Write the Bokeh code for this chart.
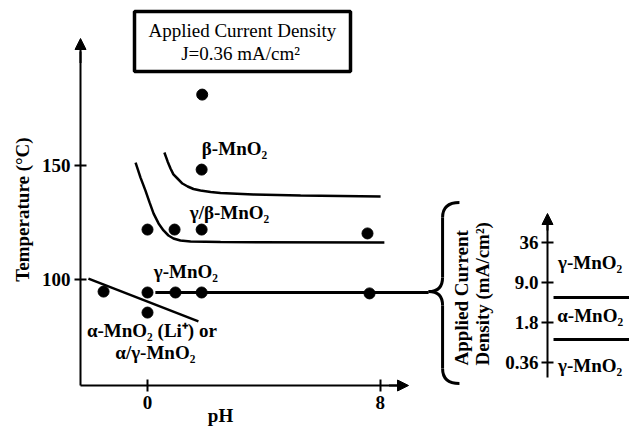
from bokeh.plotting import figure
from bokeh.layouts import row
from bokeh.models import Range1d, FixedTicker, Label, Arrow, NormalHead, BoxAnnotation
from bokeh.embed import file_html
from bokeh.resources import INLINE
import math

# ---------------- data ----------------
# experimental points: pH, temperature (C)
pts_ph = [-1.51, 0.0, 0.96, 1.86, 7.63, 0.0, 0.93, 1.86, 7.56, 0.0, 1.86, 1.88]
pts_temp = [94.7, 94.3, 94.3, 94.3, 93.9, 121.9, 121.9, 121.9, 120.2, 85.5, 148.2, 181.1]

# gamma / gamma-beta boundary curve
gb_ph = [-0.41, -0.24, -0.07, 0.07, 0.21, 0.38, 0.55, 0.72, 0.89, 1.13, 1.48, 2.51, 8.14]
gb_temp = [151.3, 144.7, 139.0, 133.8, 128.9, 124.6, 121.5, 119.3, 118.0, 117.1, 116.7, 116.4, 116.2]

# gamma-beta / beta boundary curve
b_ph = [0.58, 0.69, 0.79, 0.89, 1.03, 1.20, 1.38, 1.58, 1.82, 2.17, 2.51, 3.64, 5.26, 8.01]
b_temp = [155.7, 151.8, 148.7, 146.1, 144.3, 142.1, 140.8, 139.7, 139.0, 138.4, 137.9, 137.3, 136.8, 136.4]

# alpha boundary line
a_ph = [-2.03, 1.75]
a_temp = [100.4, 81.6]

# gamma line at constant temperature
g_ph = [0.27, 9.66]
g_temp = [94.3, 94.3]

x_ticks = [0, 8]
y_ticks = [100, 150]

# right panel: applied current density categories (mA/cm2)
j_labels = ["0.36", "1.8", "9.0", "36"]
j_index = [0, 1, 2, 3]
j_bounds = [0.575, 1.625]
j_phases = ["γ-MnO₂", "α-MnO₂", "γ-MnO₂"]
j_phase_pos = [2.5, 1.175, -0.075]

SERIF = "Liberation Serif"
FS = "19px"

# ---------------- main figure ----------------
X0, X1 = -5.052, 12.062
Y0, Y1 = 35.09, 222.37
AX_PH = -2.302     # where the temperature axis stands
AX_T = 53.51       # where the pH axis stands
p1 = figure(width=498, height=427, x_range=Range1d(X0, X1), y_range=Range1d(Y0, Y1),
            output_backend="svg", toolbar_location=None, min_border=0)
p1.xgrid.visible = False
p1.ygrid.visible = False
p1.outline_line_color = None
p1.background_fill_color = "white"
p1.border_fill_color = "white"

for ax in (p1.xaxis[0], p1.yaxis[0]):
    ax.axis_line_width = 2
    ax.axis_line_color = "black"
    ax.major_tick_line_width = 2
    ax.major_tick_in = 6
    ax.major_tick_out = 6
    ax.minor_tick_line_color = None
    ax.major_label_text_font = SERIF
    ax.major_label_text_font_style = "bold"
    ax.major_label_text_font_size = FS
    ax.major_label_text_color = "black"
    ax.major_label_standoff = 4

p1.xaxis.fixed_location = AX_T
p1.yaxis.fixed_location = AX_PH
p1.xaxis.ticker = FixedTicker(ticks=x_ticks)
p1.yaxis.ticker = FixedTicker(ticks=y_ticks)
p1.xaxis.bounds = (AX_PH, 8.6)
p1.yaxis.bounds = (AX_T, 200.0)

# axis arrows
p1.add_layout(Arrow(end=NormalHead(size=11, fill_color="black", line_color="black"),
                    x_start=AX_PH, y_start=195.0, x_end=AX_PH, y_end=205.7,
                    line_width=2, line_color="black"))
p1.add_layout(Arrow(end=NormalHead(size=11, fill_color="black", line_color="black"),
                    x_start=8.3, y_start=AX_T, x_end=8.97, y_end=AX_T,
                    line_width=2, line_color="black"))

# boundaries
p1.line(gb_ph, gb_temp, line_width=2.5, color="black")
p1.line(b_ph, b_temp, line_width=2.5, color="black")
p1.line(a_ph, a_temp, line_width=2.5, color="black")
p1.line(g_ph, g_temp, line_width=3, color="black")

# points
p1.scatter(pts_ph, pts_temp, size=11, color="black")

# curly brace
bw = 3
p1.quadratic(x0=[10.72], y0=[133.8], x1=[10.14], y1=[127.2], cx=[10.14], cy=[133.8], line_width=bw, line_color="black")
p1.segment(x0=[10.14], y0=[127.2], x1=[10.14], y1=[100.9], line_width=bw, line_color="black")
p1.quadratic(x0=[10.14], y0=[100.9], x1=[9.66], y1=[94.7], cx=[10.14], cy=[94.7], line_width=bw, line_color="black")
p1.quadratic(x0=[9.66], y0=[94.7], x1=[10.14], y1=[88.6], cx=[10.14], cy=[94.7], line_width=bw, line_color="black")
p1.segment(x0=[10.14], y0=[88.6], x1=[10.14], y1=[61.0], line_width=bw, line_color="black")
p1.quadratic(x0=[10.14], y0=[61.0], x1=[10.72], y1=[54.4], cx=[10.14], cy=[54.4], line_width=bw, line_color="black")

def lab(fig, x, y, text, bold=True, size=FS, align="center", angle=0.0, baseline="middle"):
    fig.add_layout(Label(x=x, y=y, text=text, text_font=SERIF,
                         text_font_style="bold" if bold else "normal",
                         text_font_size=size, text_color="black",
                         text_align=align, text_baseline=baseline, angle=angle))

# phase labels
lab(p1, 2.99, 157.5, "β-MnO₂")
lab(p1, 2.82, 129.4, "γ/β-MnO₂")
lab(p1, 1.32, 103.5, "γ-MnO₂")
lab(p1, 0.15, 77.6, "α-MnO₂ (Li⁺) or")
lab(p1, 0.27, 68.0, "α/γ-MnO₂")

# axis titles
lab(p1, 2.51, 40.35, "pH")
lab(p1, -4.30, 130.7, "Temperature (°C)", angle=math.pi / 2)

# title box
p1.add_layout(BoxAnnotation(left=-0.447, right=6.976, top=217.5, bottom=191.2,
                            fill_alpha=0, line_color="black", line_alpha=1.0, line_width=3.5))
lab(p1, 3.26, 209.2, "Applied Current Density", bold=False)
lab(p1, 3.20, 199.1, "J=0.36 mA/cm²", bold=False)

# rotated label of the brace
lab(p1, 10.79, 62.3, "Applied Current", align="left", angle=math.pi / 2)
lab(p1, 11.51, 62.3, "Density (mA/cm²)", align="left", angle=math.pi / 2)

# ---------------- right panel ----------------
AX_J = 0.374
p2 = figure(width=131, height=427, x_range=Range1d(0, 1), y_range=Range1d(-1.625, 9.05),
            output_backend="svg", toolbar_location=None, min_border=0)
p2.xaxis.visible = False
p2.xgrid.visible = False
p2.ygrid.visible = False
p2.outline_line_color = None
ay = p2.yaxis[0]
ay.fixed_location = AX_J
ay.ticker = FixedTicker(ticks=j_index)
ay.major_label_overrides = {i: t for i, t in zip(j_index, j_labels)}
ay.bounds = (-0.375, 3.5)
ay.axis_line_width = 2
ay.major_tick_line_width = 2
ay.major_tick_in = 6
ay.major_tick_out = 6
ay.minor_tick_line_color = None
ay.major_label_text_font = SERIF
ay.major_label_text_font_style = "bold"
ay.major_label_text_font_size = FS
ay.major_label_text_color = "black"
ay.major_label_standoff = 3
p2.add_layout(Arrow(end=NormalHead(size=11, fill_color="black", line_color="black"),
                    x_start=AX_J, y_start=3.3, x_end=AX_J, y_end=3.725,
                    line_width=2, line_color="black"))
for b in j_bounds:
    p2.line([0.42, 1.0], [b, b], line_width=3, color="black")
for t, yv in zip(j_phases, j_phase_pos):
    lab(p2, 0.70, yv, t)

layout = row(p1, p2)
open("out.html", "w").write(file_html(layout, INLINE))
